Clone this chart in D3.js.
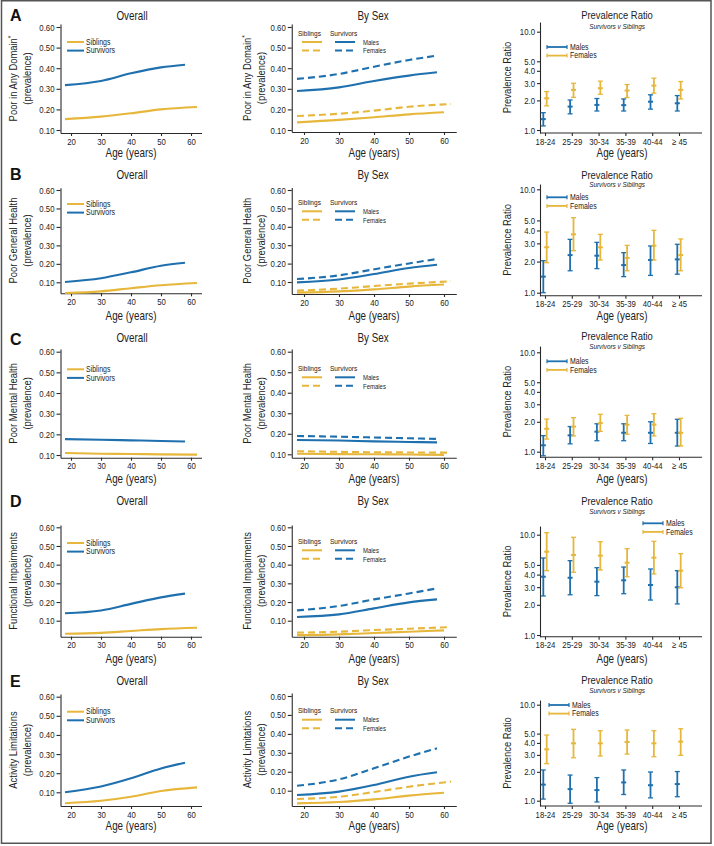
<!DOCTYPE html>
<html><head><meta charset="utf-8">
<script src="https://cdn.jsdelivr.net/npm/d3@7"></script>
<style>
body{margin:0;background:#fff;}
svg{font-family:'Liberation Sans',Arial,sans-serif;}
</style></head><body><svg id="c" width="714" height="846"></svg>
<script>
// ---------------- DATA ----------------
const panelLetters = ["A","B","C","D","E"];
const outcomeLabels = ["Poor in Any Domain", "Poor General Health", "Poor Mental Health", "Functional Impairments", "Activity Limitations"];
const outcomeStar = [true,false,false,false,false];
const ageGroups = ["18-24","25-29","30-34","35-39","40-44","\u2265 45"];
const prevTicks = [0.10,0.20,0.30,0.40,0.50,0.60];
const ratioTicks = [1,2,3,4,5,10];
const ageTicks = [20,30,40,50,60];

const ageSurvivors = [18,30,40,50,58];
const ageSiblings = [18,30,40,50,62];
const ageSiblingsMale = [18,30,40,50,60];

// Overall
const overallSurvivors = [
  [0.318,0.338,0.375,0.404,0.417],
  [0.102,0.122,0.154,0.190,0.206],
  [0.177,0.174,0.171,0.168,0.165],
  [0.140,0.155,0.190,0.225,0.245],
  [0.100,0.130,0.173,0.225,0.255]];
const overallSiblings = [
  [0.153,0.165,0.181,0.200,0.212],
  [0.042,0.051,0.068,0.084,0.096],
  [0.110,0.106,0.105,0.103,0.102],
  [0.030,0.035,0.045,0.055,0.062],
  [0.043,0.056,0.077,0.107,0.126]];
// By sex
const survivorsMale = [
  [0.289,0.307,0.338,0.364,0.380],
  [0.098,0.114,0.143,0.176,0.194],
  [0.170,0.167,0.163,0.160,0.158],
  [0.120,0.134,0.166,0.198,0.214],
  [0.077,0.095,0.130,0.174,0.197]];
const survivorsFemale = [
  [0.348,0.372,0.407,0.440,0.461],
  [0.116,0.136,0.169,0.201,0.225],
  [0.189,0.186,0.182,0.178,0.175],
  [0.155,0.179,0.214,0.246,0.273],
  [0.126,0.160,0.218,0.280,0.324]];
const siblingsMale = [
  [0.137,0.149,0.162,0.176,0.186],
  [0.042,0.049,0.060,0.075,0.086],
  [0.103,0.101,0.100,0.099,0.097],
  [0.023,0.027,0.034,0.041,0.048],
  [0.033,0.040,0.054,0.074,0.089]];
const siblingsFemale = [
  [0.168,0.179,0.194,0.213,0.226],
  [0.053,0.064,0.078,0.091,0.104],
  [0.115,0.112,0.110,0.109,0.108],
  [0.036,0.041,0.050,0.057,0.066],
  [0.056,0.068,0.093,0.121,0.148]];
// Prevalence ratios
const maleRatio = [
  [1.29,1.73,1.80,1.79,1.94,1.87],
  [1.43,2.31,2.28,1.85,2.07,2.10],
  [1.16,1.46,1.59,1.55,1.55,1.55],
  [3.81,3.72,3.40,3.51,3.15,2.99],
  [1.47,1.32,1.29,1.55,1.45,1.49]];
const maleLow = [
  [1.10,1.46,1.56,1.56,1.63,1.56],
  [1.00,1.63,1.71,1.43,1.47,1.51],
  [0.91,1.20,1.29,1.29,1.21,1.14],
  [2.45,2.52,2.47,2.58,2.23,2.04],
  [1.04,0.94,0.97,1.16,1.07,1.10]];
const maleHigh = [
  [1.50,2.02,2.09,2.07,2.28,2.24],
  [2.04,3.28,3.07,2.44,2.83,2.94],
  [1.45,1.79,1.91,1.91,2.00,2.12],
  [5.86,5.51,4.69,4.76,4.55,4.38],
  [2.09,1.85,1.74,2.09,1.99,2.01]];
const femaleRatio = [
  [2.10,2.56,2.66,2.52,2.83,2.56],
  [2.75,3.67,2.75,2.17,2.85,2.31],
  [1.70,1.79,1.94,1.87,1.87,1.55],
  [6.77,6.28,6.18,5.26,5.90,4.38],
  [3.43,3.96,3.96,4.09,3.96,4.12]];
const femaleLow = [
  [1.76,2.15,2.31,2.14,2.37,2.07],
  [1.95,2.55,2.07,1.63,2.07,1.63],
  [1.34,1.44,1.60,1.50,1.44,1.14],
  [4.38,4.22,4.45,3.81,4.06,2.96],
  [2.43,2.80,2.92,3.06,2.87,2.97]];
const femaleHigh = [
  [2.46,2.99,3.14,2.90,3.37,3.11],
  [3.86,5.31,3.67,2.87,4.01,3.31],
  [2.13,2.20,2.38,2.32,2.41,2.17],
  [10.47,9.42,8.51,7.25,8.59,6.47],
  [4.83,5.54,5.36,5.45,5.36,5.62]];

// ---------------- LAYOUT ----------------
const rows = [
 {top:27,bot:130,ax:133,axT:24, mTop:27,mBot:130,mAx:132,mAxT:24, rTen:31.7,rOne:130,rAx:133,rAxT:22, letter:15,title:16,rTitle:16,rSub:26, legL:42, legM:34, legR:47, legRX:547, tick:140, age:153},
 {top:190,bot:282.3,ax:293.3,axT:187.7, mTop:190,mBot:282,mAx:294,mAxT:187.5, rTen:189.3,rOne:292.7,rAx:295.7,rAxT:184, letter:174,title:175,rTitle:175.7,rSub:184.3, legL:204, legM:203.3, legR:197.3, legRX:547, tick:305, age:315.5},
 {top:351.7,bot:455,ax:457.7,axT:349, mTop:351.7,mBot:454.3,mAx:457.7,mAxT:349, rTen:352.3,rOne:451.7,rAx:457.3,rAxT:346, letter:339,title:338,rTitle:337,rSub:346, legL:369.3, legM:369.3, legR:361.3, legRX:547, tick:466, age:479},
 {top:527.3,bot:620.7,ax:636.7,axT:525, mTop:527.3,mBot:620.7,mAx:636.7,mAxT:525, rTen:534.7,rOne:635,rAx:636.7,rAxT:526, letter:501,title:501,rTitle:501.7,rSub:510.7, legL:543, legM:542.3, legR:523.3, legRX:643, tick:646, age:659},
 {top:696.7,bot:792.3,ax:806,axT:694, mTop:696,mBot:790.7,mAx:806,mAxT:693, rTen:704.7,rOne:800.7,rAx:806,rAxT:700, letter:681,title:681,rTitle:681,rSub:690, legL:711.7, legM:711.7, legR:705, legRX:549, tick:815.7, age:825.7}
];
const BLUE="#1f70ae", GOLD="#e7b73c", AX="#2a2a2a", TXT="#222";
const NARROW = 0.82;

const svg = d3.select("#c");
svg.append("rect").attr("x",1.5).attr("y",0.75).attr("width",709.5).attr("height",842.5)
  .attr("fill","none").attr("stroke","#555").attr("stroke-width",1.5);

function condense(sel, k){
  k = k || NARROW;
  sel.each(function(){
    const t = d3.select(this);
    const x = +t.attr("x")||0, y = +t.attr("y")||0;
    const tr = t.attr("transform")||"";
    t.attr("transform", `${tr} translate(${x},${y}) scale(${k},1)`).attr("x",0).attr("y",0);
  });
}
function styleAxis(g, fs){
  g.selectAll("path,line").attr("stroke",AX).attr("stroke-width",1.1);
  g.selectAll("text").attr("fill",TXT).style("font-size",fs+"px").call(condense);
}
function text(x,y,s,fs,anchor,extra){
  const t = svg.append("text").attr("x",x).attr("y",y).attr("text-anchor",anchor||"middle")
    .attr("dominant-baseline","central").attr("fill",TXT).style("font-size",fs+"px").text(s);
  if(extra) extra(t);
  condense(t);
  return t;
}
function rotLabel(x,cy,s,fs){
  const t = svg.append("text").attr("transform",`translate(${x},${cy}) rotate(-90) scale(${NARROW},1)`)
    .attr("text-anchor","middle").attr("dominant-baseline","central").attr("fill",TXT).style("font-size",fs+"px")
    .text(s);
  return t;
}
function yLabel(x1,x2,cy,row){
  const t1 = rotLabel(x1,cy,outcomeLabels[row],11.5);
  if(outcomeStar[row]) t1.append("tspan").attr("dy",-3).style("font-size","8px").text("*");
  rotLabel(x2,cy,"(prevalence)",11.5);
}
function prevScale(top,bot,ax,axT){
  const base = d3.scaleLinear().domain([0.10,0.60]).range([bot,top]);
  return d3.scaleLinear().domain([base.invert(ax), base.invert(axT)]).range([ax,axT]);
}
function linePanel(row, x, y, axY, series){
  const x0 = x.range()[0];
  const gy = svg.append("g").attr("transform",`translate(${x0},0)`)
    .call(d3.axisLeft(y).tickValues(prevTicks).tickFormat(d3.format(".2f")).tickSize(4).tickPadding(2).tickSizeOuter(0));
  styleAxis(gy,9.5);
  const gx = svg.append("g").attr("transform",`translate(0,${axY})`)
    .call(d3.axisBottom(x).tickValues(ageTicks).tickSize(3).tickPadding(2).tickSizeOuter(0));
  styleAxis(gx,9.5);
  const line = d3.line().x(d=>x(d[0])).y(d=>y(d[1])).curve(d3.curveMonotoneX);
  series.forEach(s=>{
    svg.append("path").datum(d3.zip(s.ages,s.vals)).attr("d",line).attr("fill","none")
      .attr("stroke",s.color).attr("stroke-width",2.1).attr("stroke-dasharray",s.dash||null);
  });
}

rows.forEach((L,r)=>{
  // letter
  svg.append("text").attr("x",10).attr("y",L.letter).attr("dominant-baseline","central")
    .style("font-weight","bold").style("font-size","16px")
    .attr("fill","#111").text(panelLetters[r]);

  // ---- Overall ----
  const xL = d3.scaleLinear().domain([16.5,63.5]).range([60.5,201.5]);
  const yL = prevScale(L.top,L.bot,L.ax,L.axT);
  linePanel(r,xL,yL,L.ax,[
    {ages:ageSiblings, vals:overallSiblings[r], color:GOLD},
    {ages:ageSurvivors, vals:overallSurvivors[r], color:BLUE}
  ]);
  text(132,L.title,"Overall",12);
  text(131,L.age,"Age (years)",12);
  yLabel(13,27,(L.ax+L.axT)/2,r);
  [["Siblings",GOLD],["Survivors",BLUE]].forEach((d,i)=>{
    const ly = L.legL + i*8.6;
    svg.append("line").attr("x1",67).attr("x2",84).attr("y1",ly).attr("y2",ly).attr("stroke",d[1]).attr("stroke-width",2);
    text(86,ly,d[0],8.5,"start");
  });

  // ---- By Sex ----
  const xM = d3.scaleLinear().domain([16.5,63.5]).range([291.75,456.25]);
  const yM = prevScale(L.mTop,L.mBot,L.mAx,L.mAxT);
  linePanel(r,xM,yM,L.mAx,[
    {ages:ageSiblingsMale, vals:siblingsMale[r], color:GOLD},
    {ages:ageSiblings, vals:siblingsFemale[r], color:GOLD, dash:"7,4"},
    {ages:ageSurvivors, vals:survivorsMale[r], color:BLUE},
    {ages:ageSurvivors, vals:survivorsFemale[r], color:BLUE, dash:"7,4"}
  ]);
  text(373,L.title,"By Sex",12);
  text(374,L.age,"Age (years)",12);
  yLabel(247,261,(L.mAx+L.mAxT)/2,r);
  text(298,L.legM-1,"Siblings",8,"start");
  text(330,L.legM-1,"Survivors",8,"start");
  [["Males",null],["Females","7,4"]].forEach((d,i)=>{
    const ly = L.legM + 8 + i*8.5;
    svg.append("line").attr("x1",302).attr("x2",322).attr("y1",ly).attr("y2",ly).attr("stroke",GOLD).attr("stroke-width",2).attr("stroke-dasharray",d[1]);
    svg.append("line").attr("x1",335).attr("x2",355).attr("y1",ly).attr("y2",ly).attr("stroke",BLUE).attr("stroke-width",2).attr("stroke-dasharray",d[1]);
    text(363,ly,d[0],7.3,"start");
  });

  // ---- Prevalence ratio ----
  const xR = d3.scalePoint().domain(ageGroups).range([545,679]);
  const base = d3.scaleLog().domain([1,10]).range([L.rOne,L.rTen]);
  const yR = d3.scaleLog().domain([base.invert(L.rAx), base.invert(L.rAxT)]).range([L.rAx,L.rAxT]);
  const gy = svg.append("g").attr("transform",`translate(540,0)`)
    .call(d3.axisLeft(yR).tickValues(ratioTicks).tickFormat(d3.format(".1f")).tickSize(3).tickPadding(2).tickSizeOuter(0));
  styleAxis(gy,9.5);
  const gx = svg.append("g").attr("transform",`translate(0,${L.rAx})`)
    .call(d3.axisBottom(xR).tickSize(3).tickPadding(2).tickSizeOuter(0));
  gx.select(".domain").attr("d","M540,0H702");
  styleAxis(gx,9.5);
  text(617,L.rTitle-1.3,"Prevalence Ratio",11.5);
  text(617,L.rSub+0.8,"Survivors v Siblings",7.8,"middle",t=>t.style("font-style","italic"));
  rotLabel(507,(L.rAx+L.rAxT)/2,"Prevalence Ratio",11.5);
  text(622,L.age,"Age (years)",12);

  const groups = [
    {pt:maleRatio[r], lo:maleLow[r], hi:maleHigh[r], color:BLUE, off:-1.7},
    {pt:femaleRatio[r], lo:femaleLow[r], hi:femaleHigh[r], color:GOLD, off:1.7}
  ];
  groups.forEach(g=>{
    ageGroups.forEach((c,i)=>{
      const cx = xR(c)+g.off;
      const e = svg.append("g").attr("stroke",g.color);
      e.append("line").attr("x1",cx).attr("x2",cx).attr("y1",yR(g.lo[i])).attr("y2",yR(g.hi[i])).attr("stroke-width",1.8);
      [g.lo[i],g.hi[i]].forEach(v=>{
        e.append("line").attr("x1",cx-2.5).attr("x2",cx+2.5).attr("y1",yR(v)).attr("y2",yR(v)).attr("stroke-width",1.3);
      });
      e.append("line").attr("x1",cx-2.5).attr("x2",cx+2.5).attr("y1",yR(g.pt[i])).attr("y2",yR(g.pt[i])).attr("stroke-width",2);
    });
  });
  [["Males",BLUE],["Females",GOLD]].forEach((d,i)=>{
    const ly = L.legR + i*8.6, lx = L.legRX;
    svg.append("line").attr("x1",lx).attr("x2",lx+20).attr("y1",ly).attr("y2",ly).attr("stroke",d[1]).attr("stroke-width",1.8);
    [lx,lx+20].forEach(xx=>svg.append("line").attr("x1",xx).attr("x2",xx).attr("y1",ly-2).attr("y2",ly+2).attr("stroke",d[1]).attr("stroke-width",1.2));
    text(lx+23,ly,d[0],8.5,"start");
  });
});
</script></body></html>
